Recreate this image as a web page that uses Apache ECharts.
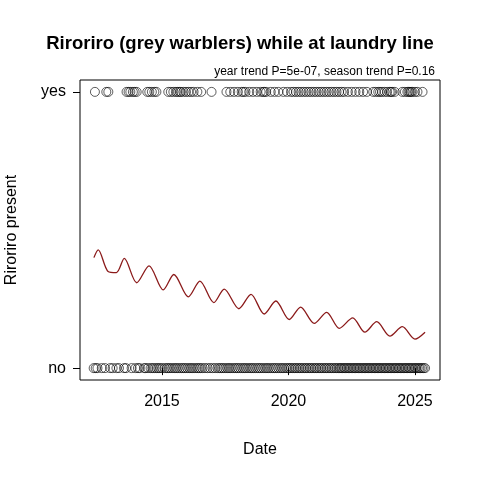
<!DOCTYPE html>
<html><head><meta charset="utf-8">
<script src="https://cdn.jsdelivr.net/npm/echarts@6/dist/echarts.min.js"></script>
<style>html,body{margin:0;padding:0;background:#fff}#c{width:480px;height:480px}</style>
</head><body><div id="c"></div>
<script>
const xTicks = [2015, 2020, 2025];
const yTickLabels = ['no', 'yes'];
const yesDates = [2012.35, 2012.8, 2012.88,
  2013.6, 2013.68, 2013.75, 2013.85, 2013.92, 2014.0,
  2014.42, 2014.5, 2014.6, 2014.7, 2014.78,
  2015.25, 2015.35, 2015.45, 2015.55, 2015.62, 2015.7, 2015.75, 2015.85, 2015.95, 2016.05, 2016.15, 2016.25, 2016.4, 2016.55,
  2016.96,
  2017.55, 2017.7, 2017.85, 2018.0, 2018.15, 2018.22, 2018.3, 2018.45, 2018.6, 2018.75, 2018.9, 2019.0, 2019.05, 2019.12, 2019.3,
  2019.45, 2019.6, 2019.8, 2019.95, 2020.1, 2020.2, 2020.3, 2020.4, 2020.5, 2020.6, 2020.7, 2020.8, 2020.9, 2021.0, 2021.1,
  2021.2, 2021.3, 2021.4, 2021.5, 2021.6, 2021.7, 2021.8, 2021.9, 2022.0, 2022.1, 2022.2, 2022.35, 2022.5, 2022.65, 2022.8, 2022.95, 2023.1,
  2023.35, 2023.45, 2023.55, 2023.62, 2023.7, 2023.8, 2023.9, 2024.0, 2024.05, 2024.1, 2024.2, 2024.5, 2024.6, 2024.7, 2024.75, 2024.8, 2024.85, 2024.9, 2025.0, 2025.1, 2025.3];
const noDates = [2012.3, 2012.38, 2012.45, 2012.62, 2012.75, 2012.95, 2013.05, 2013.2, 2013.3, 2013.5, 2013.58, 2013.8, 2013.95, 2014.05,
  2014.12, 2014.3, 2014.35, 2014.45, 2014.55, 2014.62, 2014.7, 2014.78, 2014.85, 2014.92, 2015.0, 2015.1, 2015.18, 2015.25, 2015.32,
  2015.4, 2015.48, 2015.55, 2015.62, 2015.7, 2015.78, 2015.85, 2015.92, 2016.0, 2016.08, 2016.15, 2016.22, 2016.3, 2016.38, 2016.45,
  2016.52, 2016.6, 2016.7, 2016.8, 2016.9, 2017.0, 2017.1, 2017.2, 2017.28, 2017.35, 2017.42, 2017.5, 2017.58, 2017.65, 2017.72,
  2017.8, 2017.88, 2017.95, 2018.02, 2018.1, 2018.18, 2018.25, 2018.32, 2018.4, 2018.48, 2018.55, 2018.62, 2018.7, 2018.78, 2018.85,
  2018.92, 2019.0, 2019.08, 2019.15, 2019.22, 2019.3, 2019.38, 2019.45, 2019.52, 2019.6, 2019.68, 2019.75, 2019.82, 2019.9, 2019.97,
  2020.04, 2020.1, 2020.17, 2020.24, 2020.3, 2020.37, 2020.44, 2020.5, 2020.57, 2020.64, 2020.7, 2020.77, 2020.84, 2020.9, 2020.97,
  2021.04, 2021.1, 2021.17, 2021.24, 2021.3, 2021.37, 2021.44, 2021.5, 2021.57, 2021.64, 2021.7, 2021.77, 2021.84, 2021.9, 2021.97,
  2022.03, 2022.08, 2022.14, 2022.2, 2022.25, 2022.31, 2022.37, 2022.42, 2022.48, 2022.54, 2022.6, 2022.65, 2022.71, 2022.77, 2022.82,
  2022.88, 2022.94, 2023.0, 2023.05, 2023.11, 2023.17, 2023.22, 2023.28, 2023.34, 2023.4, 2023.45, 2023.51, 2023.57, 2023.62, 2023.68,
  2023.74, 2023.8, 2023.85, 2023.91, 2023.97, 2024.02, 2024.08, 2024.14, 2024.2, 2024.25, 2024.31, 2024.37, 2024.42, 2024.48, 2024.54,
  2024.6, 2024.65, 2024.71, 2024.77, 2024.82, 2024.88, 2024.94, 2025.0, 2025.05, 2025.11, 2025.17, 2025.22, 2025.28, 2025.34, 2025.4];
const trendX = [2012.31, 2012.48, 2012.87, 2013.2, 2013.51, 2014.0, 2014.49, 2015.05, 2015.47, 2016.04, 2016.5, 2017.05, 2017.46,
  2018.04, 2018.52, 2019.04, 2019.5, 2020.03, 2020.48, 2021.02, 2021.51, 2022.01, 2022.54, 2023.02, 2023.49, 2024.01, 2024.5, 2025.0, 2025.4];
const trendY = [0.40, 0.428, 0.35, 0.346, 0.397, 0.309, 0.37, 0.283, 0.339, 0.258, 0.315, 0.237, 0.286,
  0.215, 0.267, 0.196, 0.243, 0.176, 0.221, 0.162, 0.202, 0.144, 0.182, 0.13, 0.168, 0.116, 0.15, 0.105, 0.13];

const chart = echarts.init(document.getElementById('c'));
const font = 'Liberation Sans, Arial, sans-serif';
chart.setOption({
  animation: false,
  title: [
    {text: 'Riroriro (grey warblers) while at laundry line', left: 'center', top: 29,
     textStyle: {fontFamily: font, fontSize: 18.5, fontWeight: 'bold', color: '#000'}},
    {text: 'year trend P=5e-07, season trend P=0.16', right: 40, top: 61,
     textStyle: {fontFamily: font, fontSize: 12, fontWeight: 'normal', color: '#000', lineHeight: 12}}
  ],
  grid: {left: 80, right: 40, top: 80, bottom: 100, show: true, borderColor: '#000', borderWidth: 1,
    containLabel: false, outerBoundsMode: 'none'},
  xAxis: {type: 'value', min: 2011.76, max: 2025.99, name: 'Date', nameLocation: 'middle', nameGap: 62,
    nameTextStyle: {fontFamily: font, fontSize: 16, color: '#000'},
    axisLine: {show: false}, splitLine: {show: false},
    axisTick: {show: true, length: 7, lineStyle: {color: '#000'}, customValues: xTicks},
    axisLabel: {fontFamily: font, fontSize: 16, color: '#000', margin: 14, customValues: xTicks, formatter: v => String(v)}},
  yAxis: {type: 'value', min: -0.043, max: 1.043, name: 'Riroriro present', nameLocation: 'middle', nameGap: 60,
    nameTextStyle: {fontFamily: font, fontSize: 16, color: '#000'},
    axisLine: {show: false}, splitLine: {show: false},
    axisTick: {show: true, length: 7, lineStyle: {color: '#000'}, customValues: [0, 1]},
    axisLabel: {fontFamily: font, fontSize: 16, color: '#000', margin: 14, customValues: [0, 1],
      formatter: v => yTickLabels[Math.round(v)]}},
  series: [
    {type: 'scatter', symbol: 'circle', symbolSize: 9, data: yesDates.map(d => [d, 1]),
     itemStyle: {color: 'rgba(0,0,0,0)', borderColor: '#000', borderWidth: 0.8}},
    {type: 'scatter', symbol: 'circle', symbolSize: 9, data: noDates.map(d => [d, 0]),
     itemStyle: {color: 'rgba(0,0,0,0)', borderColor: '#000', borderWidth: 0.8}},
    {type: 'line', smooth: 0.3, showSymbol: false, data: trendX.map((d, i) => [d, trendY[i]]),
     lineStyle: {color: '#8b1a1a', width: 1.3}}
  ]
});
</script></body></html>
